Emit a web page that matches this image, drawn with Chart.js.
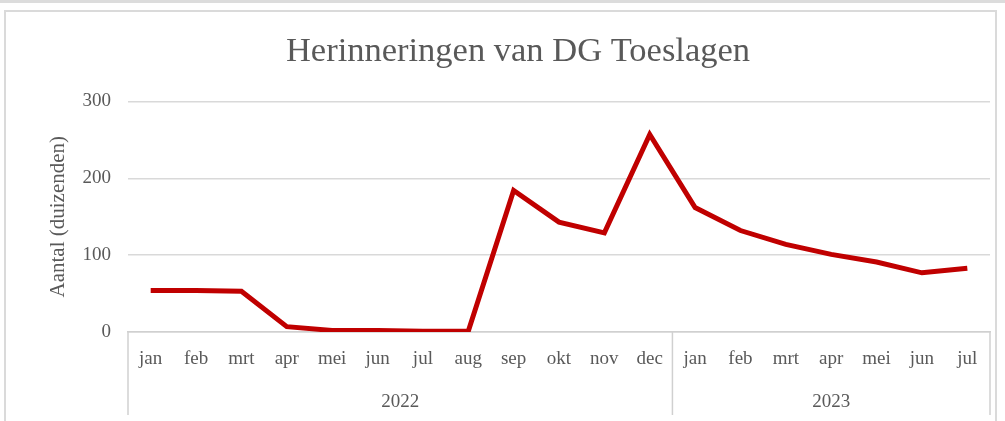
<!DOCTYPE html>
<html>
<head>
<meta charset="utf-8">
<script src="https://cdn.jsdelivr.net/npm/chart.js@4.4.0/dist/chart.umd.min.js"></script>
<style>
  html, body { margin: 0; padding: 0; background: #fff; }
  #wrap { position: relative; width: 1005px; height: 421px; overflow: hidden; }
  #topline { position: absolute; left: 0; top: 0; width: 1005px; height: 3px; background: #dcdcdc; }
  #frame { position: absolute; left: 4px; top: 10px; width: 993px; height: 420px; border: 2px solid #dadada; box-sizing: border-box; }
  canvas { position: absolute; left: 0; top: 0; }
</style>
</head>
<body>
<div id="wrap">
  <div id="topline"></div>
  <div id="frame"></div>
  <canvas id="c" width="1005" height="421"></canvas>
</div>
<script>
const months = ["jan","feb","mrt","apr","mei","jun","jul","aug","sep","okt","nov","dec",
                "jan","feb","mrt","apr","mei","jun","jul"];
const years = ["2022","2023"];
const yearCounts = [12, 7];
const values = [54, 54, 53, 7, 2, 2, 1, 1, 184, 143, 129, 257, 162, 132, 114, 101, 91, 77, 83];
const yTicks = [0, 100, 200, 300];

const serif = "'Liberation Serif', 'DejaVu Serif', serif";
const gray = "#595959";

const groupPlugin = {
  id: 'groups',
  afterDraw(chart) {
    const x = chart.scales.x;
    const ctx = chart.ctx;
    const top = x.top;
    const bottom = 415;
    const step = x.getPixelForValue(1) - x.getPixelForValue(0);
    ctx.save();
    ctx.strokeStyle = "#d0d0d0";
    ctx.lineWidth = 1.5;
    let idx = 0;
    const bounds = [x.getPixelForValue(0) - step / 2];
    yearCounts.forEach(n => { idx += n; bounds.push(x.getPixelForValue(idx - 1) + step / 2); });
    bounds.forEach(b => {
      ctx.beginPath(); ctx.moveTo(b, top); ctx.lineTo(b, bottom); ctx.stroke();
    });
    ctx.fillStyle = gray;
    ctx.font = "19px " + serif;
    ctx.textAlign = "center";
    ctx.textBaseline = "middle";
    years.forEach((yr, i) => {
      ctx.fillText(yr, (bounds[i] + bounds[i + 1]) / 2, 402);
    });
    ctx.restore();
  }
};

new Chart(document.getElementById('c'), {
  type: 'line',
  data: {
    labels: months,
    datasets: [{
      data: values,
      borderColor: '#C00000',
      borderWidth: 5,
      pointRadius: 0,
      tension: 0,
      fill: false
    }]
  },
  options: {
    responsive: false,
    animation: false,
    layout: { padding: { left: 46, right: 15, top: 0, bottom: 0 } },
    plugins: {
      legend: { display: false },
      tooltip: { enabled: false },
      title: {
        display: true,
        text: 'Herinneringen van DG Toeslagen',
        color: gray,
        font: { family: serif, size: 34.5, weight: 'normal' },
        padding: { top: 31, bottom: 29 }
      }
    },
    scales: {
      y: {
        min: 0, max: 300,
        afterFit(s) { s.width = 82; },
        afterBuildTicks(s) { s.ticks = yTicks.map(v => ({ value: v })); },
        ticks: { color: gray, font: { family: serif, size: 19 }, padding: 17 },
        grid: { color: '#d9d9d9', lineWidth: 1.5, drawTicks: false },
        border: { display: false },
        title: {
          display: true,
          text: 'Aantal (duizenden)',
          color: gray,
          font: { family: serif, size: 21 },
          padding: 0
        }
      },
      x: {
        offset: true,
        afterFit(s) { s.height = 89; },
        ticks: { color: gray, font: { family: serif, size: 19 }, padding: 16, maxRotation: 0, autoSkip: false },
        grid: { display: false, drawTicks: false, offset: true },
        border: { display: true, color: '#d0d0d0', width: 1.5 }
      }
    }
  },
  plugins: [groupPlugin]
});
</script>
</body>
</html>
